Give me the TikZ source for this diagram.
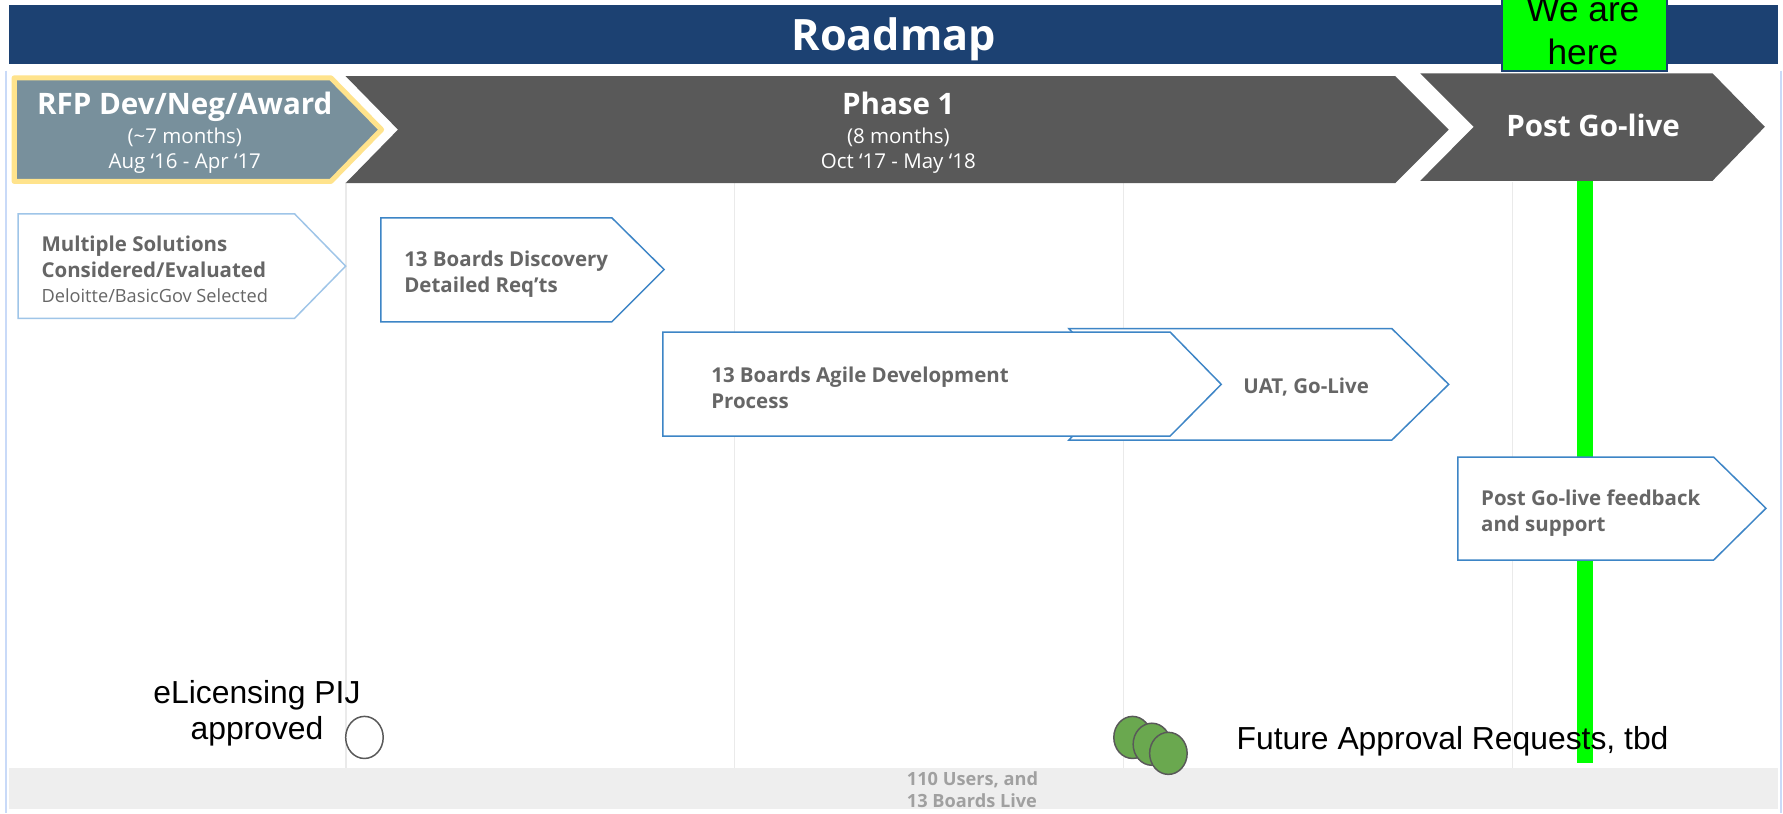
\documentclass[tikz,border=0pt]{standalone}
\usepackage{fontspec}
\setmainfont{Open Sans}
\newfontfamily\arialfont{Liberation Sans}
\usetikzlibrary{positioning,shapes.geometric}
\definecolor{navy}{RGB}{28,65,114}
\definecolor{phasegray}{RGB}{89,89,89}
\definecolor{slate}{RGB}{120,144,156}
\definecolor{gold}{RGB}{255,227,140}
\definecolor{paleblue}{RGB}{159,197,232}
\definecolor{boxblue}{RGB}{61,133,198}
\definecolor{framebl}{RGB}{201,218,248}
\definecolor{txtgray}{RGB}{102,102,102}
\definecolor{gridgray}{RGB}{234,234,234}
\definecolor{bandgray}{RGB}{238,238,238}
\definecolor{bandtxt}{RGB}{160,160,160}
\definecolor{golive}{RGB}{0,255,0}
\definecolor{leaf}{RGB}{106,168,79}

\begin{document}
\begin{tikzpicture}[x=1pt,y=-1pt,
  phasetitle/.style={anchor=base,text=white,font=\bfseries\fontsize{26}{30}\selectfont},
  phasesub/.style={anchor=base,text=white,font=\fontsize{18}{22}\selectfont},
  tasktxt/.style={anchor=base west,align=left,text=txtgray,font=\bfseries\fontsize{18}{23}\selectfont},
  taskbox/.style={draw=boxblue,line width=1.3pt,fill=white},
  note/.style={anchor=base,align=center,font=\arialfont\fontsize{28}{32}\selectfont},
  approval/.style={draw=black!65,line width=1.3pt,ellipse,minimum width=33pt,minimum height=37pt,inner sep=0pt}]
\useasboundingbox (0,0) rectangle (1568,715);
\fill[white] (0,0) rectangle (1568,715);
\foreach \x in {5,1566} \draw[framebl,line width=1.5pt] (\x,62) -- (\x,715);
\foreach \x in {304,646,988,1330} \draw[gridgray,line width=1.5pt] (\x,160) -- (\x,675);
\fill[bandgray] (8,675) rectangle (1564,711);
\node[anchor=base west,align=left,text=bandtxt,font=\bfseries\fontsize{16}{19}\selectfont] (live) at (794,710) {110 Users, and\\13 Boards Live};
\fill[navy] (8,4.5) rectangle (1564,56.5);
\node[anchor=base,text=white,font=\bfseries\fontsize{38}{44}\selectfont] (title) at (786,44) {Roadmap};
\fill[golive] (1387,150) rectangle (1401,671);

\draw[gold,fill=slate,line width=4.5pt,line join=round] (12.5,68.5) -- (291,68.5) -- (335.5,114) -- (291,159.5) -- (12.5,159.5) -- cycle;
\fill[phasegray] (304,67) -- (1227,67) -- (1274,114) -- (1227,161) -- (304,161) -- (350,114) -- cycle;
\fill[phasegray] (1249,64.5) -- (1506,64.5) -- (1552,111.5) -- (1506,159) -- (1249,159) -- (1296,111.5) -- cycle;
\node[phasetitle] (rfp) at (162.5,101) {RFP Dev/Neg/Award};
\node[phasesub] (rfpdur) at (162.5,126) {(\textasciitilde7 months)};
\node[phasesub] (rfpdate) at (162.5,148) {Aug ‘16 - Apr ‘17};
\node[phasetitle] (phase) at (790,101) {Phase 1};
\node[phasesub] (phasedur) at (790,126) {(8 months)};
\node[phasesub] (phasedate) at (790,148) {Oct ‘17 - May ‘18};
\node[phasetitle] (post) at (1401,120) {Post Go-live};

\node[draw=navy,fill=golive,line width=1.5pt,minimum width=145pt,minimum height=85pt,inner sep=0pt] (here) at (1393.5,20) {};
\node[note,font=\arialfont\fontsize{31}{38}\selectfont] (heretxt) at (1392,56.5) {We are\\here};

\draw[taskbox,draw=paleblue] (16,188) -- (259,188) -- (304,234) -- (259,280) -- (16,280) -- cycle;
\node[tasktxt] (solutions) at (33,266) {Multiple Solutions\\Considered/Evaluated\\[-1pt]{\mdseries\fontsize{16}{20}\selectfont Deloitte/BasicGov Selected}};
\draw[taskbox] (335,191.5) -- (538,191.5) -- (584,237) -- (538,283) -- (335,283) -- cycle;
\node[tasktxt] (discovery) at (352,257) {13 Boards Discovery\\Detailed Req’ts};
\draw[taskbox] (940,289) -- (1224,289) -- (1274,338) -- (1224,387) -- (940,387) -- (985,338) -- cycle;
\node[tasktxt] (uat) at (1090,346) {UAT, Go-Live};
\draw[taskbox] (583,292) -- (1029,292) -- (1074,338) -- (1029,383.5) -- (583,383.5) -- cycle;
\node[tasktxt] (agile) at (622,359.5) {13 Boards Agile Development\\Process};
\draw[taskbox] (1282,402) -- (1507,402) -- (1553,447) -- (1507,492.5) -- (1282,492.5) -- cycle;
\node[tasktxt] (support) at (1299,467.5) {Post Go-live feedback\\and support};

\node[approval,fill=white] (pij) at (320.5,648.5) {};
\node[note] (pijtxt) at (226,650.5) {eLicensing PIJ\\approved};
\foreach \cx/\cy [count=\i] in {996/648.5,1013/654.5,1027.5/662.5}
  \node[approval,fill=leaf] (req\i) at (\cx,\cy) {};
\node[note,anchor=base west] (future) at (1084,659) {Future Approval Requests, tbd};
\end{tikzpicture}
\end{document}
